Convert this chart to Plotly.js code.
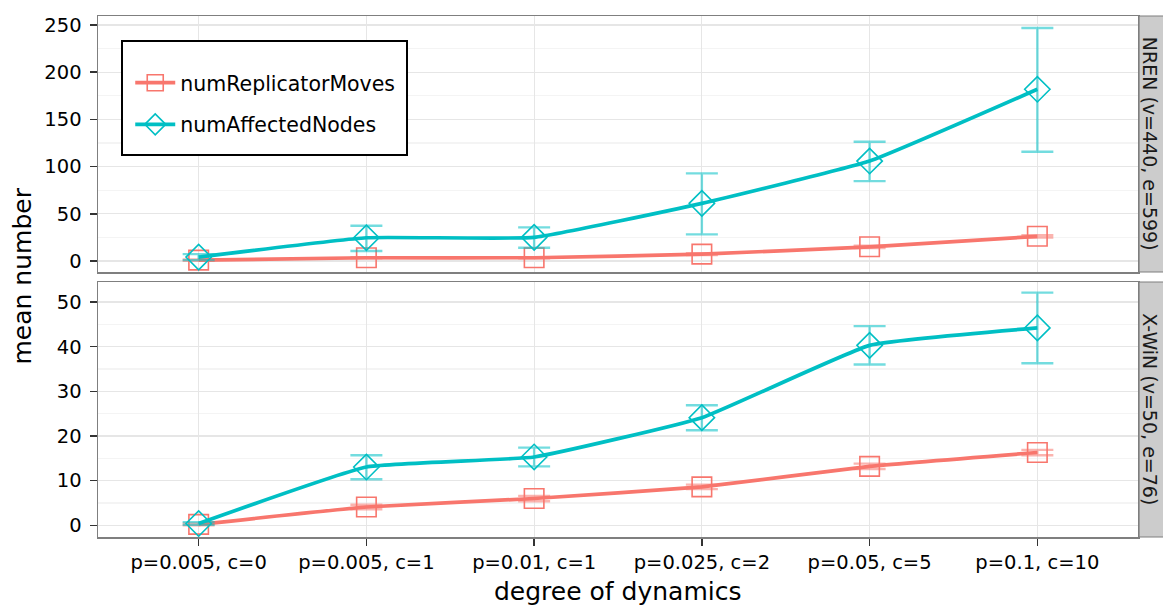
<!DOCTYPE html>
<html>
<head>
<meta charset="utf-8">
<script src="https://cdn.plot.ly/plotly-3.0.1.min.js"></script>
<style>
html, body { margin: 0; padding: 0; background: #ffffff; }
#chart { width: 1163px; height: 605px; }
</style>
</head>
<body>
<div id="chart"></div>
<script>
// Categories (x axis)
const categories = ["p=0.005, c=0", "p=0.005, c=1", "p=0.01, c=1", "p=0.025, c=2", "p=0.05, c=5", "p=0.1, c=10"];

// Series names
const seriesNames = ["numReplicatorMoves", "numAffectedNodes"];
const panelNames = ["NREN (v=440, e=599)", "X-WiN (v=50, e=76)"];

// NREN panel (top)
const nrenMovesMean = [1.0, 3.5, 3.5, 7.4, 15.1, 26.2];
const nrenMovesLow  = [0.3, 2.8, 2.8, 6.4, 13.9, 25.0];
const nrenMovesHigh = [1.7, 4.2, 4.2, 8.4, 16.3, 27.4];
const nrenNodesMean = [4.2, 24.7, 25.1, 61.1, 105.9, 181.9];
const nrenNodesLow  = [1.0, 10.6, 14.1, 28.3, 84.7, 115.8];
const nrenNodesHigh = [7.4, 37.4, 35.7, 92.9, 126.4, 246.8];

// X-WiN panel (bottom)
const xwinMovesMean = [0.2, 4.1, 6.0, 8.6, 13.2, 16.3];
const xwinMovesLow  = [0.0, 3.6, 5.4, 8.1, 12.6, 15.7];
const xwinMovesHigh = [0.4, 4.6, 6.6, 9.1, 13.8, 16.9];
const xwinNodesMean = [0.4, 13.05, 15.3, 24.1, 40.3, 44.2];
const xwinNodesLow  = [0.1, 10.3, 13.2, 21.3, 36.0, 36.3];
const xwinNodesHigh = [0.7, 15.7, 17.4, 26.9, 44.6, 52.1];

const RED = "#F8766D", TEAL = "#00BFC4";
const RED_EB = "rgba(248,118,109,0.55)", TEAL_EB = "rgba(0,191,196,0.55)";

function diff(a, b) { return a.map((v, i) => v - b[i]); }

function mkTrace(mean, low, high, color, ebColor, symbol, name, xa, ya, showLegend) {
  return {
    type: "scatter",
    mode: "lines+markers",
    x: categories,
    y: mean,
    name: name,
    legendgroup: name,
    showlegend: showLegend,
    xaxis: xa, yaxis: ya,
    line: { color: color, width: 3.7, shape: "spline", smoothing: 0.35 },
    marker: { symbol: symbol, size: 19.5, color: color, line: { width: 1.6, color: color } },
    error_y: {
      type: "data", symmetric: false,
      array: diff(high, mean), arrayminus: diff(mean, low),
      color: ebColor, thickness: 2.4, width: 16
    },
    hoverinfo: "skip"
  };
}

const traces = [
  mkTrace(nrenMovesMean, nrenMovesLow, nrenMovesHigh, RED, RED_EB, "square-open", seriesNames[0], "x2", "y", true),
  mkTrace(nrenNodesMean, nrenNodesLow, nrenNodesHigh, TEAL, TEAL_EB, "diamond-open", seriesNames[1], "x2", "y", true),
  mkTrace(xwinMovesMean, xwinMovesLow, xwinMovesHigh, RED, RED_EB, "square-open", seriesNames[0], "x", "y2", false),
  mkTrace(xwinNodesMean, xwinNodesLow, xwinNodesHigh, TEAL, TEAL_EB, "diamond-open", seriesNames[1], "x", "y2", false)
];

const FONT = "DejaVu Sans";
const GRID = "#E6E6E6", MINOR = "#F4F4F4", BORDER = "#7F7F7F", TICK = "#333333";

const xCommon = {
  type: "category",
  categoryorder: "array",
  categoryarray: categories,
  range: [-0.6, 5.6],
  showgrid: true, gridcolor: GRID, gridwidth: 1.2,
  zeroline: false,
  showline: true, mirror: true, linecolor: BORDER, linewidth: 1.5,
  fixedrange: true
};
const yCommon = {
  showgrid: true, gridcolor: GRID, gridwidth: 1.2,
  zeroline: false,
  showline: true, mirror: true, linecolor: BORDER, linewidth: 1.5,
  ticks: "outside", ticklen: 7, tickwidth: 1.5, tickcolor: TICK,
  ticklabelstandoff: 4,
  tickfont: { family: FONT, size: 19.5, color: "#000000" },
  fixedrange: true
};

const layout = {
  width: 1163, height: 605,
  margin: { l: 98, r: 25, t: 16, b: 68 },
  paper_bgcolor: "#ffffff", plot_bgcolor: "#ffffff",
  font: { family: FONT, color: "#000000" },
  showlegend: true,
  legend: {
    x: 0.031, y: 0.910, xanchor: "left", yanchor: "top",
    bgcolor: "rgba(0,0,0,0)", borderwidth: 0,
    font: { family: FONT, size: 20.5, color: "#000000" },
    tracegroupgap: 12, itemwidth: 40
  },
  xaxis: Object.assign({}, xCommon, {
    anchor: "y2", domain: [0, 1],
    ticks: "outside", ticklen: 7, tickwidth: 1.5, tickcolor: TICK,
    tickfont: { family: FONT, size: 19.5, color: "#000000" }
  }),
  xaxis2: Object.assign({}, xCommon, {
    anchor: "y", matches: "x", showticklabels: false, ticks: ""
  }),
  yaxis: Object.assign({}, yCommon, {
    anchor: "x2", domain: [0.5086, 1],
    range: [-11.6, 259.5], tick0: 0, dtick: 50,
    minor: { tick0: 25, dtick: 50, showgrid: true, gridcolor: MINOR, gridwidth: 1.2 }
  }),
  yaxis2: Object.assign({}, yCommon, {
    anchor: "x", domain: [0, 0.4894],
    range: [-2.62, 54.48], tick0: 0, dtick: 10,
    minor: { tick0: 5, dtick: 10, showgrid: true, gridcolor: MINOR, gridwidth: 1.2 }
  }),
  shapes: [
    { type: "rect", xref: "paper", yref: "y domain", x0: 1.001, x1: 1.05, y0: 0, y1: 1,
      fillcolor: "#CCCCCC", line: { color: BORDER, width: 1.2 }, layer: "above" },
    { type: "rect", xref: "paper", yref: "y2 domain", x0: 1.001, x1: 1.05, y0: 0, y1: 1,
      fillcolor: "#CCCCCC", line: { color: BORDER, width: 1.2 }, layer: "above" },
    { type: "rect", xref: "paper", yref: "paper",
      x0: (122 - 98) / 1040, x1: (407 - 98) / 1040,
      y0: (537 - 155) / 521, y1: (537 - 41) / 521,
      fillcolor: "#ffffff", line: { color: "#000000", width: 2 }, layer: "above" }
  ],
  annotations: [
    { text: panelNames[0], xref: "paper", yref: "y domain", x: 1.0118, y: 0.5,
      xanchor: "center", yanchor: "middle", textangle: 90, showarrow: false,
      font: { family: FONT, size: 19, color: "#1a1a1a" } },
    { text: panelNames[1], xref: "paper", yref: "y2 domain", x: 1.0118, y: 0.5,
      xanchor: "center", yanchor: "middle", textangle: 90, showarrow: false,
      font: { family: FONT, size: 19, color: "#1a1a1a" } },
    { text: "mean number", xref: "paper", yref: "paper", x: (22 - 98) / 1040, y: 0.5,
      xanchor: "center", yanchor: "middle", textangle: -90, showarrow: false,
      font: { family: FONT, size: 25, color: "#000000" } },
    { text: "degree of dynamics", xref: "paper", yref: "paper", x: 0.5, y: (537 - 591) / 521,
      xanchor: "center", yanchor: "middle", showarrow: false,
      font: { family: FONT, size: 25, color: "#000000" } }
  ]
};

Plotly.newPlot("chart", traces, layout, { displayModeBar: false, staticPlot: true });
</script>
</body>
</html>
